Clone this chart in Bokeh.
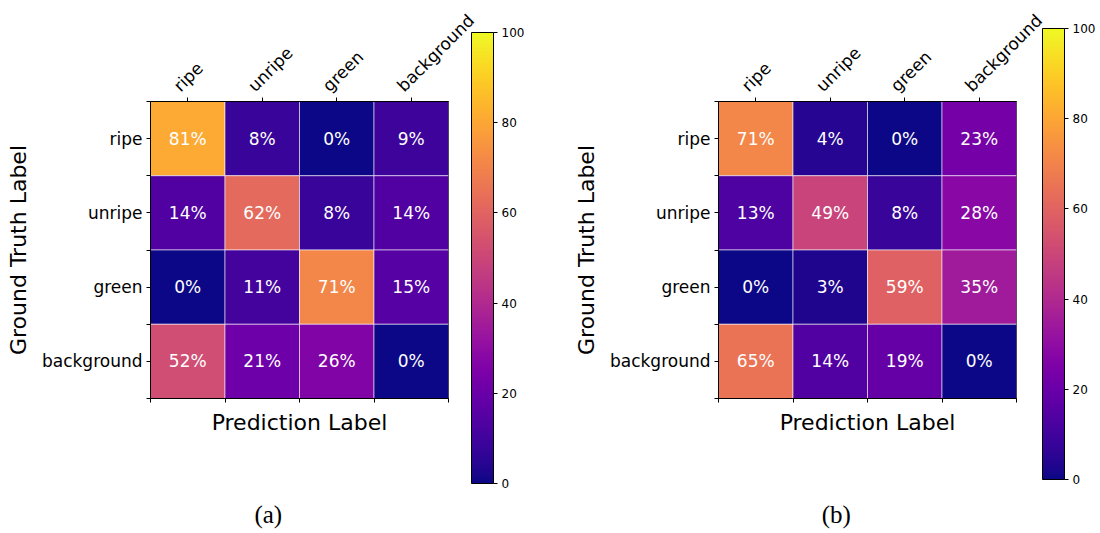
import math
from bokeh.plotting import figure
from bokeh.models import (ColumnDataSource, Range1d, LinearAxis, FixedTicker,
                          ColorBar, LinearColorMapper)
from bokeh.palettes import Plasma256
from bokeh.layouts import row
from bokeh.core.properties import value
from bokeh.embed import file_html
from bokeh.resources import INLINE

# ---- data ----
classes = ["ripe", "unripe", "green", "background"]
# rows = ground truth, columns = prediction (percent)
cm_a_ripe = [81, 8, 0, 9]
cm_a_unripe = [14, 62, 8, 14]
cm_a_green = [0, 11, 71, 15]
cm_a_background = [52, 21, 26, 0]

cm_b_ripe = [71, 4, 0, 23]
cm_b_unripe = [13, 49, 8, 28]
cm_b_green = [0, 3, 59, 35]
cm_b_background = [65, 14, 19, 0]

colorbar_ticks = [0, 20, 40, 60, 80, 100]
captions = ["(a)", "(b)"]

FONT = "DejaVu Sans"
LABEL_SHIFT = 0.15  # rotated top labels start slightly left of their tick
NBSP = "\u00a0"


def make_panel(rows, caption, border_left, border_right, cb_x, cb_y):
    n = len(classes)
    xs, ys, vals, txt = [], [], [], []
    for gi, r in enumerate(rows):
        for pi_, v in enumerate(r):
            xs.append(pi_ + 0.5)          # prediction column (category index)
            ys.append(n - 0.5 - gi)       # ground-truth row, first class on top
            vals.append(v)
            txt.append(f"{v}%")
    src = ColumnDataSource(dict(x=xs, y=ys, v=vals, t=txt))
    mapper = LinearColorMapper(palette=Plasma256, low=0, high=100)

    p = figure(width=550, height=533, output_backend="svg", toolbar_location=None,
               x_range=Range1d(0, n), y_range=Range1d(0, n),
               x_axis_location=None, y_axis_location=None,
               min_border_left=border_left, min_border_right=border_right,
               min_border_top=100, min_border_bottom=135)
    p.grid.visible = False
    p.outline_line_color = "black"
    p.outline_line_width = 1
    p.background_fill_color = "white"

    p.rect(x="x", y="y", width=1, height=1, source=src,
           fill_color={"field": "v", "transform": mapper},
           line_color="white", line_alpha=0.55, line_width=1)
    p.text(x="x", y="y", text="t", source=src, text_color="white",
           text_font=value(FONT), text_font_size="17px",
           text_align="center", text_baseline="middle")

    centers = [i + 0.5 for i in range(n)]
    edges = [float(i) for i in range(n + 1)]

    # top: tick marks at the column centres
    top_ticks = LinearAxis(ticker=FixedTicker(ticks=centers, minor_ticks=[]),
                           major_label_overrides={c: "" for c in centers},
                           major_label_text_font_size="1px", major_label_text_color=None,
                           major_label_standoff=0,
                           major_tick_in=0, major_tick_out=4, axis_line_color="black")
    p.add_layout(top_ticks, "above")
    # top: rotated class names
    label_pos = [c - LABEL_SHIFT for c in centers]
    top_labels = LinearAxis(ticker=FixedTicker(ticks=label_pos, minor_ticks=[]),
                            major_label_overrides={c: name for c, name in zip(label_pos, classes)},
                            major_label_orientation=math.pi / 4,
                            major_label_text_font=FONT, major_label_text_font_size="17px",
                            major_label_text_color="black", major_label_standoff=9,
                            major_tick_in=0, major_tick_out=0, axis_line_color=None)
    p.add_layout(top_labels, "above")

    bottom = LinearAxis(ticker=FixedTicker(ticks=edges, minor_ticks=[]),
                        major_label_overrides={e: "" for e in edges},
                        major_label_text_font_size="1px", major_label_text_color=None,
                        major_label_standoff=0,
                        major_tick_in=0, major_tick_out=4, axis_line_color="black",
                        axis_label="Prediction Label", axis_label_text_font=FONT,
                        axis_label_text_font_size="22px", axis_label_text_font_style="normal",
                        axis_label_text_color="black", axis_label_standoff=7)
    p.add_layout(bottom, "below")

    # sub-figure caption, set slightly left of the frame centre as in the original
    cap_axis = LinearAxis(ticker=FixedTicker(ticks=[], minor_ticks=[]),
                          major_label_text_font_size="1px", major_label_text_color=None,
                          major_label_standoff=0, major_tick_in=0, major_tick_out=0,
                          axis_line_color=None,
                          axis_label=caption + NBSP * 10, axis_label_text_font="Liberation Serif",
                          axis_label_text_font_size="25px", axis_label_text_font_style="normal",
                          axis_label_text_color="black", axis_label_standoff=63)
    p.add_layout(cap_axis, "below")

    left = LinearAxis(ticker=FixedTicker(ticks=centers, minor_ticks=edges),
                      major_label_overrides={n - 0.5 - i: name for i, name in enumerate(classes)},
                      major_label_text_font=FONT, major_label_text_font_size="17px",
                      major_label_text_color="black", major_label_standoff=4,
                      major_tick_in=0, major_tick_out=4, minor_tick_in=0, minor_tick_out=4,
                      minor_tick_line_color="black", axis_line_color="black",
                      axis_label="Ground Truth Label", axis_label_text_font=FONT,
                      axis_label_text_font_size="22px", axis_label_text_font_style="normal",
                      axis_label_text_color="black", axis_label_standoff=8)
    p.add_layout(left, "left")

    cb = ColorBar(color_mapper=mapper, ticker=FixedTicker(ticks=colorbar_ticks),
                  width=22, height=451, padding=0, location=(cb_x, cb_y),
                  major_label_text_font=FONT, major_label_text_font_size="12px",
                  major_label_text_color="black", label_standoff=4,
                  major_tick_line_color="black", major_tick_in=0, major_tick_out=4,
                  bar_line_color="black", bar_line_width=1,
                  background_fill_alpha=0, border_line_color=None)
    p.add_layout(cb, "center")
    return p


p1 = make_panel([cm_a_ripe, cm_a_unripe, cm_a_green, cm_a_background], captions[0],
                150, 102, 321, -85)
p2 = make_panel([cm_b_ripe, cm_b_unripe, cm_b_green, cm_b_background], captions[1],
                168, 84, 324, -81)

layout = row(p1, p2)
open("out.html", "w").write(file_html(layout, INLINE))
